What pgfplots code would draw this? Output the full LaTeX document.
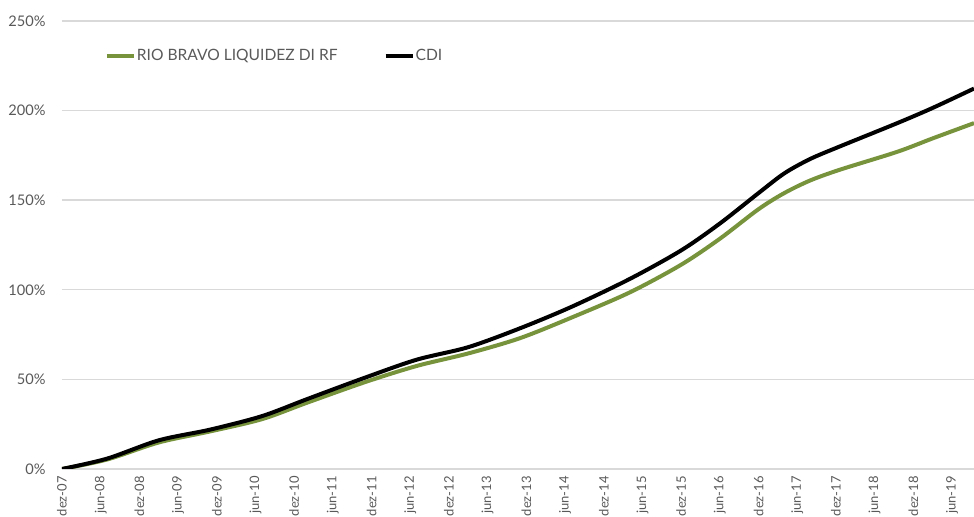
\documentclass[border=0pt]{standalone}
\usepackage{pgfplots}
\pgfplotsset{compat=1.18}
\usepackage{fontspec}
\setmainfont{Lato}
\definecolor{rbgreen}{HTML}{77933C}
\definecolor{txtgray}{HTML}{595959}
\definecolor{gridgray}{HTML}{D9D9D9}

% month index since dez-07, cumulative return in %
\pgfplotstableread{
m     v
0     0
7     5.3
15    14.8
23    21
31    27.8
38    37
47    48.5
55    57.5
63    64.5
71    73
79    84.5
88    98.5
96    114
102   128.5
108   145
112   154
116   161
120.6 167
129.5 177
135   184.5
141.4 193
}\rioliq
\pgfplotstableread{
m     v
0     0
7     5.8
15    16
23    22
31    29.5
38    39
47    51
55    61
63    68
71    78.5
79    90.5
88    106
96    122
102   137
108   154
112   165
116   173
120.6 180
129.5 193
135   201.5
141.4 212.3
}\cdi

\begin{document}
\begin{tikzpicture}
\begin{axis}[
    name=ax,
    scale only axis,
    width=456pt, height=224pt,
    xmin=0, xmax=141.4,
    ymin=0, ymax=250,
    axis line style={draw=none},
    tick style={draw=none},
    ymajorgrids,
    major grid style={gridgray, line width=0.7pt},
    ytick={0,50,...,250},
    yticklabel={\pgfmathprintnumber{\tick}\%},
    xtick={0,6,...,138},
    xticklabels={dez-07,jun-08,dez-08,jun-09,dez-09,jun-10,dez-10,jun-11,dez-11,jun-12,dez-12,jun-13,dez-13,jun-14,dez-14,jun-15,dez-15,jun-16,dez-16,jun-17,dez-17,jun-18,dez-18,jun-19},
    ticklabel style={text=txtgray},
    y tick label style={font=\fontsize{7.3}{9}\selectfont, inner sep=0pt, xshift=-8pt},
    x tick label style={font=\fontsize{6.5}{8}\selectfont, yshift=-3.5pt, rotate=90, anchor=east, inner sep=0pt},
    /pgf/number format/assume math mode=true,
    legend columns=2,
    legend style={draw=none, fill=none, at={(0.04,0.922)}, anchor=west,
        font=\fontsize{7.8}{10}\selectfont, text=txtgray,
        nodes={inner xsep=0.5pt},
        /tikz/every even column/.append style={column sep=22.5pt}},
    legend image code/.code={\draw[#1, line width=2pt] (0pt,0pt) -- (13.5pt,0pt);},
]
\addplot[rbgreen, line width=2pt, smooth] table[x=m, y=v] {\rioliq};
\addplot[black, line width=2pt, smooth] table[x=m, y=v] {\cdi};
\legend{RIO BRAVO LIQUIDEZ DI RF, CDI}
\end{axis}
\pgfresetboundingbox
\path[use as bounding box] ([xshift=-31pt,yshift=-24pt]ax.south west) rectangle ([yshift=10.5pt]ax.north east);
\end{tikzpicture}
\end{document}
